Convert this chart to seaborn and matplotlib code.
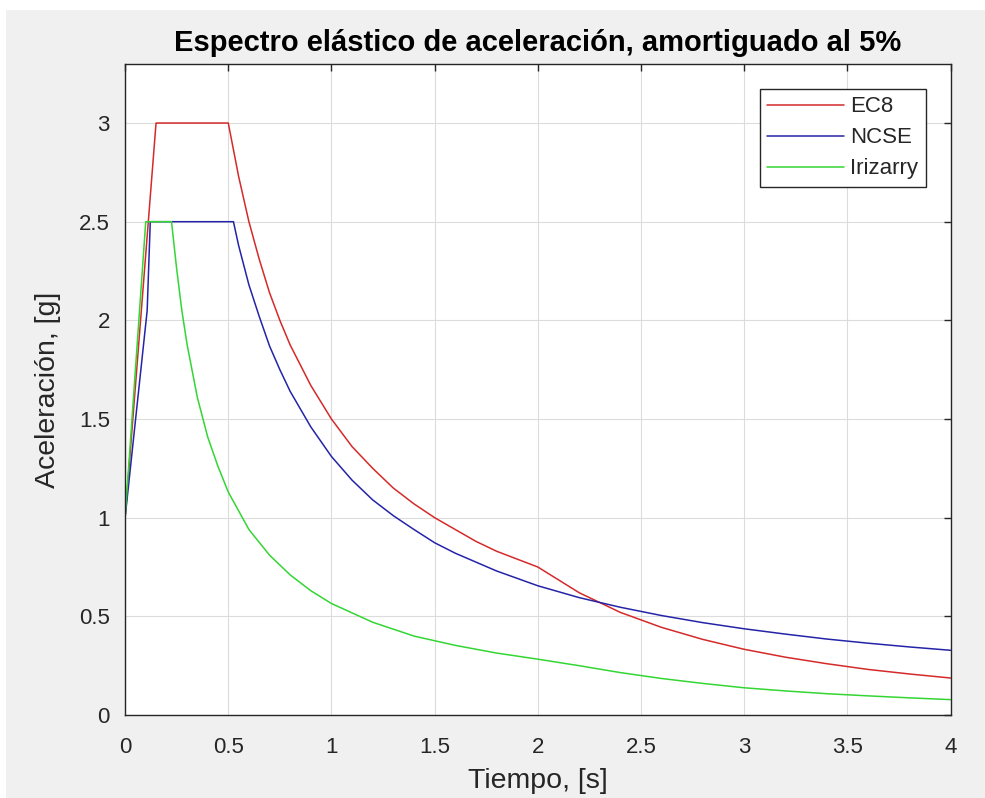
import pandas as pd
import matplotlib.pyplot as plt
import seaborn as sns
from matplotlib.patches import Rectangle

# values
ec8_t = [0, 0.15, 0.5, 0.55, 0.6, 0.65, 0.7, 0.75, 0.8, 0.9, 1.0, 1.1, 1.2, 1.3, 1.4, 1.5,
         1.6, 1.7, 1.8, 1.9, 2.0, 2.2, 2.4, 2.6, 2.8, 3.0, 3.2, 3.4, 3.6, 3.8, 4.0]
ec8_sa = [1.0, 3.0, 3.0, 2.73, 2.5, 2.31, 2.14, 2.0, 1.875, 1.67, 1.5, 1.36, 1.25, 1.15, 1.07, 1.0,
          0.94, 0.88, 0.83, 0.79, 0.75, 0.62, 0.52, 0.444, 0.383, 0.333, 0.293, 0.26, 0.231, 0.208, 0.1875]

ncse_t = [0, 0.107, 0.122, 0.525, 0.55, 0.6, 0.65, 0.7, 0.75, 0.8, 0.9, 1.0, 1.1, 1.2, 1.3, 1.4,
          1.5, 1.6, 1.8, 2.0, 2.2, 2.4, 2.6, 2.8, 3.0, 3.2, 3.4, 3.6, 3.8, 4.0]
ncse_sa = [1.0, 2.05, 2.5, 2.5, 2.38, 2.18, 2.02, 1.87, 1.75, 1.64, 1.46, 1.31, 1.19, 1.09, 1.01, 0.94,
           0.873, 0.82, 0.73, 0.655, 0.595, 0.546, 0.504, 0.468, 0.437, 0.41, 0.385, 0.364, 0.345, 0.328]

iri_t = [0, 0.1, 0.225, 0.25, 0.275, 0.3, 0.35, 0.4, 0.45, 0.5, 0.6, 0.7, 0.8, 0.9, 1.0, 1.2,
         1.4, 1.6, 1.8, 2.0, 2.2, 2.4, 2.6, 2.8, 3.0, 3.2, 3.4, 3.6, 3.8, 4.0]
iri_sa = [1.0, 2.5, 2.5, 2.26, 2.05, 1.88, 1.61, 1.41, 1.26, 1.13, 0.94, 0.81, 0.71, 0.63, 0.565, 0.47,
          0.40, 0.353, 0.314, 0.283, 0.25, 0.215, 0.185, 0.16, 0.138, 0.122, 0.108, 0.097, 0.087, 0.078]

names = ['EC8', 'NCSE', 'Irizarry']
colors = ['#d42a2a', '#2424a8', '#33d633']

df = pd.concat([
    pd.DataFrame({'T': ec8_t, 'Sa': ec8_sa, 'Norma': 'EC8'}),
    pd.DataFrame({'T': ncse_t, 'Sa': ncse_sa, 'Norma': 'NCSE'}),
    pd.DataFrame({'T': iri_t, 'Sa': iri_sa, 'Norma': 'Irizarry'}),
], ignore_index=True)

sns.set_style('whitegrid')
plt.rcParams['font.family'] = ['Liberation Sans', 'DejaVu Sans']

fig = plt.figure(figsize=(9.85, 7.98), dpi=100, facecolor='#f0f0f0')
# thin white border of the screenshot (top and left)
fig.patches.append(Rectangle((0, 0.987), 1, 0.013, transform=fig.transFigure,
                             facecolor='white', edgecolor='none', zorder=-1))
fig.patches.append(Rectangle((0, 0), 0.006, 1, transform=fig.transFigure,
                             facecolor='white', edgecolor='none', zorder=-1))
ax = fig.add_axes([0.127, 0.104, 0.838, 0.816])

sns.lineplot(data=df, x='T', y='Sa', hue='Norma', hue_order=names, palette=colors,
             estimator=None, sort=False, linewidth=1.1, ax=ax)

ax.set_xlim(0, 4)
ax.set_ylim(0, 3.3)
ax.set_xticks([0, 0.5, 1, 1.5, 2, 2.5, 3, 3.5, 4])
ax.set_yticks([0, 0.5, 1, 1.5, 2, 2.5, 3])
ax.set_xticklabels(['0', '0.5', '1', '1.5', '2', '2.5', '3', '3.5', '4'])
ax.set_yticklabels(['0', '0.5', '1', '1.5', '2', '2.5', '3'])
ax.grid(True, color='#dcdcdc', linewidth=0.8)
for s in ax.spines.values():
    s.set_color('#262626')
    s.set_linewidth(1.0)
ax.tick_params(direction='in', length=5, width=1, colors='#262626', labelcolor='#262626',
               labelsize=16, top=True, right=True)
ax.tick_params(axis='x', pad=16)
ax.tick_params(axis='y', pad=11)

ax.set_title('Espectro elástico de aceleración, amortiguado al 5%', fontsize=21,
             fontweight='bold', color='black', pad=9)
ax.set_xlabel('Tiempo, [s]', fontsize=20.5, color='#262626', labelpad=7)
ax.set_ylabel('Aceleración, [g]', fontsize=20.5, color='#262626', labelpad=13)

leg = ax.legend(loc='upper right', bbox_to_anchor=(0.97, 0.962), fontsize=16, frameon=True,
                fancybox=False, handlelength=3.45, handletextpad=0.27, borderpad=0.35,
                labelspacing=0.45, borderaxespad=0)
leg.get_frame().set_edgecolor('#262626')
leg.get_frame().set_linewidth(1.0)
leg.get_frame().set_alpha(1)

fig.savefig('out.png', dpi=100, facecolor=fig.get_facecolor())
